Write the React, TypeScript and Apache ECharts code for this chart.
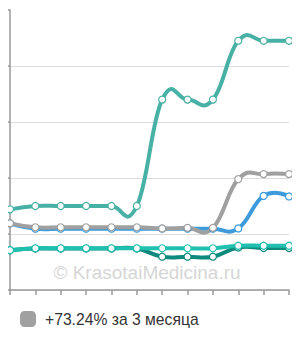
import React, { useEffect, useRef } from "react";
import * as echarts from "echarts";

const categories = ["1", "2", "3", "4", "5", "6", "7", "8", "9", "10", "11", "12"];
const tealValues = [1.44, 1.5, 1.5, 1.5, 1.5, 1.5, 3.4, 3.4, 3.4, 4.45, 4.45, 4.45];
const grayValues = [1.19, 1.12, 1.12, 1.12, 1.12, 1.12, 1.1, 1.11, 1.11, 1.98, 2.07, 2.07];
const blueValues = [1.19, 1.095, 1.095, 1.095, 1.095, 1.095, 1.095, 1.095, 1.095, 1.1, 1.68, 1.67];
const cyanValues = [0.71, 0.745, 0.745, 0.745, 0.745, 0.745, 0.745, 0.745, 0.745, 0.79, 0.79, 0.79];
const darkTealValues = [0.71, 0.74, 0.74, 0.74, 0.74, 0.74, 0.595, 0.595, 0.595, 0.76, 0.75, 0.75];
const legendLabel = "+73.24% за 3 месяца";
const watermark = "© KrasotaiMedicina.ru";

const K = 0.45;

function splinePath(pts: number[][]): string {
  const n = pts.length;
  let d = `M${pts[0][0]},${pts[0][1]}`;
  const cps: { l: number[]; r: number[] }[] = [];
  for (let i = 0; i < n; i++) {
    const p = pts[i];
    if (i === 0 || i === n - 1) {
      cps.push({ l: p, r: p });
      continue;
    }
    const a = pts[i - 1];
    const b = pts[i + 1];
    const slope = (b[1] - a[1]) / (b[0] - a[0]);
    const dl = (p[0] - a[0]) * K;
    const dr = (b[0] - p[0]) * K;
    cps.push({ l: [p[0] - dl, p[1] - slope * dl], r: [p[0] + dr, p[1] + slope * dr] });
  }
  for (let i = 1; i < n; i++) {
    const c1 = cps[i - 1].r;
    const c2 = cps[i].l;
    const p = pts[i];
    d += ` C${c1[0]},${c1[1]} ${c2[0]},${c2[1]} ${p[0]},${p[1]}`;
  }
  return d;
}

function curveSeries(name: string, values: number[], color: string, width: number) {
  return {
    name: name + "-curve",
    type: "custom",
    data: values.map((v, i) => [i, v]),
    encode: { x: 0, y: 1 },
    silent: true,
    clip: false,
    renderItem: (params: any, api: any) => {
      if (params.dataIndex !== 0) return null;
      const pts = values.map((v, i) => api.coord([i, v]));
      return {
        type: "path",
        shape: { pathData: splinePath(pts) },
        style: { stroke: color, lineWidth: width, fill: "none", lineJoin: "round", lineCap: "round" },
      };
    },
  };
}

function markerSeries(name: string, data: number[], color: string) {
  return {
    name,
    type: "line",
    data,
    symbol: "circle",
    symbolSize: 7,
    color,
    lineStyle: { width: 0, opacity: 0 },
    itemStyle: { color: "#ffffff", borderColor: color, borderWidth: 1.2 },
    emphasis: { disabled: true },
  };
}

const seriesDefs = [
  { name: "darkTeal", values: darkTealValues, color: "#0e8a7d" },
  { name: "cyan", values: cyanValues, color: "#1fc0b0" },
  { name: "blue", values: blueValues, color: "#3d9bdc" },
  { name: legendLabel, values: grayValues, color: "#a0a0a0" },
  { name: "teal", values: tealValues, color: "#48b1a5" },
];

export default function App() {
  const ref = useRef<HTMLDivElement>(null);
  useEffect(() => {
    if (!ref.current) return;
    const chart = echarts.init(ref.current, undefined, { renderer: "svg" });
    const series: any[] = [];
    seriesDefs.forEach((s) => {
      series.push(curveSeries(s.name, s.values, s.color, 4));
      series.push(markerSeries(s.name, s.values, s.color));
    });
    chart.setOption({
      animation: false,
      grid: { left: 10, right: 11, top: 10, bottom: 50 },
      xAxis: {
        type: "category",
        data: categories,
        boundaryGap: false,
        axisLine: { lineStyle: { color: "#999", width: 1.5 } },
        axisTick: { length: 5, lineStyle: { color: "#999", width: 1.5 } },
        axisLabel: { show: false },
      },
      yAxis: {
        type: "value",
        min: 0,
        max: 5,
        interval: 1,
        axisLine: { show: true, lineStyle: { color: "#999", width: 1.5 } },
        axisTick: { show: true, length: 7, lineStyle: { color: "#999", width: 1.5 } },
        axisLabel: { show: false },
        splitLine: { show: true, showMaxLine: false, lineStyle: { color: "#dcdcdc", width: 1 } },
      },
      legend: {
        left: 20,
        top: 311,
        padding: 0,
        itemWidth: 14,
        itemHeight: 14,
        icon: "roundRect",
        data: [{ name: legendLabel, itemStyle: { color: "#a0a0a0" } }],
        textStyle: {
          fontFamily: "Liberation Sans, Arial, sans-serif",
          fontSize: 15.7,
          color: "#333",
          padding: [0, 0, 0, 5],
        },
      },
      graphic: [
        {
          type: "text",
          x: 147,
          y: 272,
          z: 0,
          style: {
            text: watermark,
            fill: "#d6d6d6",
            fontSize: 19,
            fontFamily: "Liberation Sans, Arial, sans-serif",
            textAlign: "center",
            textVerticalAlign: "middle",
          },
        },
      ],
      series,
    });
    return () => chart.dispose();
  }, []);
  return <div ref={ref} style={{ width: 300, height: 340, margin: -8 }} />;
}
